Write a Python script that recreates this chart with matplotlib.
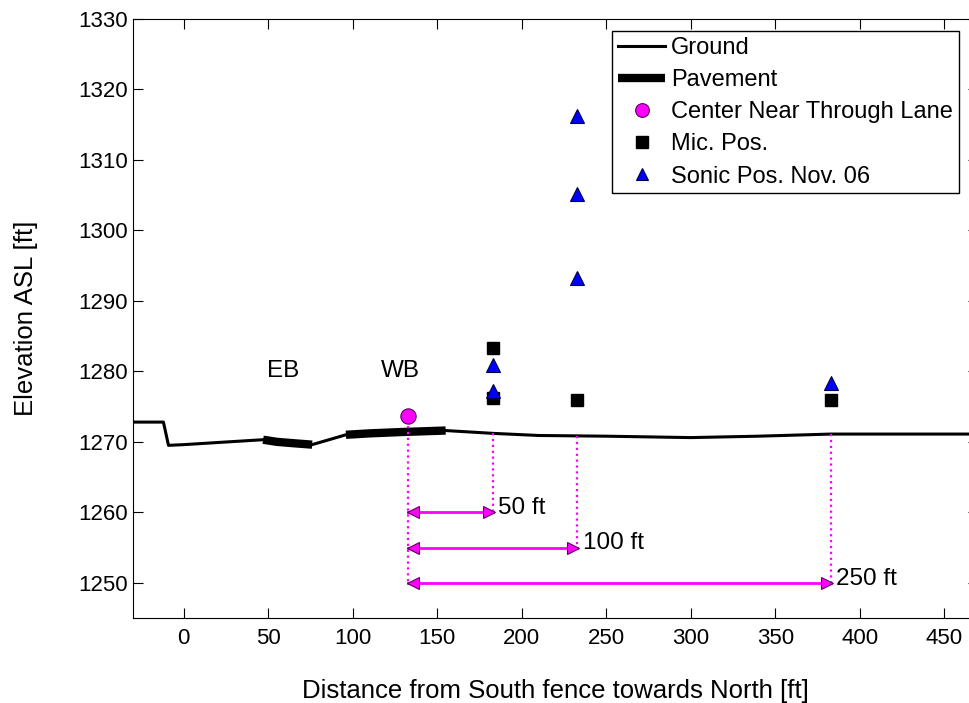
import matplotlib
matplotlib.use("Agg")
import matplotlib.pyplot as plt

plt.rcParams['font.family'] = ['Liberation Sans', 'DejaVu Sans']

# Profil du terrain (ft, ft ASL)
ground_x = [-30, -12, -9, 0, 20, 47, 76, 96, 110, 130, 155, 183, 210, 250, 300, 340, 383, 420, 470]
ground_y = [1272.8, 1272.8, 1269.5, 1269.6, 1269.9, 1270.3, 1269.6, 1271.0, 1271.2, 1271.4, 1271.6,
            1271.2, 1270.9, 1270.8, 1270.6, 1270.8, 1271.1, 1271.1, 1271.1]

# Chaussées EB / WB
pav_eb_x = [47, 55, 65, 76]
pav_eb_y = [1270.3, 1270.0, 1269.8, 1269.6]
pav_wb_x = [96, 110, 130, 155]
pav_wb_y = [1271.0, 1271.2, 1271.4, 1271.6]

center_x, center_y = 133, 1273.6

mic_x = [183, 183, 233, 383]
mic_y = [1283.3, 1276.2, 1275.9, 1276.0]

sonic_x = [183, 183, 233, 233, 233, 383]
sonic_y = [1280.9, 1277.2, 1316.3, 1305.1, 1293.3, 1278.3]

# Cotes de distance
dist_labels = ["50 ft", "100 ft", "250 ft"]
dist_end = [183, 233, 383]
dist_level = [1260, 1255, 1250]
ground_at_end = [1271.2, 1270.8, 1271.1]

fig = plt.figure(figsize=(9.69, 7.03), dpi=100)
ax = fig.add_axes([133 / 969, 85 / 703, 845 / 969, 599 / 703])

ax.plot(ground_x, ground_y, color='black', lw=2.2, label='Ground')
ax.plot(pav_eb_x, pav_eb_y, color='black', lw=6, solid_capstyle='butt', label='Pavement')
ax.plot(pav_wb_x, pav_wb_y, color='black', lw=6, solid_capstyle='butt')

# lignes de rappel pointillées + flèches
ax.plot([center_x, center_x], [1272.3, min(dist_level)], color='magenta', ls=':', lw=1.6)
for xe, yl, yg in zip(dist_end, dist_level, ground_at_end):
    ax.plot([xe, xe], [yg, yl], color='magenta', ls=':', lw=1.6)
    ax.plot([center_x, xe], [yl, yl], color='magenta', lw=2)
    ax.plot([center_x + 2.5], [yl], '<', ms=8, mfc='magenta', mec='#600060', mew=0.8)
    ax.plot([xe - 2.5], [yl], '>', ms=8, mfc='magenta', mec='#600060', mew=0.8)

for lab, xe, yl in zip(dist_labels, dist_end, dist_level):
    ax.text(xe + 3, yl + 0.6, lab, fontsize=17.5, ha='left', va='center')

ax.plot([center_x], [center_y], 'o', ms=11, mfc='magenta', mec='#5a005a', mew=0.8,
        label='Center Near Through Lane')
ax.plot(mic_x, mic_y, 's', ms=9, color='black', label='Mic. Pos.')
ax.plot(sonic_x, sonic_y, '^', ms=10, mfc='blue', mec='#000040', mew=0.8,
        label='Sonic Pos. Nov. 06')

ax.text(59, 1280, "EB", fontsize=17.5, ha='center', va='center')
ax.text(128, 1280, "WB", fontsize=17.5, ha='center', va='center')

ax.set_xlim(-30, 470)
ax.set_ylim(1245, 1330)
ax.set_xticks(range(0, 451, 50))
ax.set_yticks(range(1250, 1331, 10))
ax.tick_params(direction='in', top=True, right=True, length=7, labelsize=16)
ax.tick_params(axis='x', pad=7)
ax.set_xlabel("Distance from South fence towards North [ft]", fontsize=18.5, labelpad=22)
ax.set_ylabel("Elevation ASL [ft]", fontsize=18.5, labelpad=29)

leg = ax.legend(loc='upper right', bbox_to_anchor=(959 / 969, 1 - 31 / 703),
                bbox_transform=fig.transFigure, borderaxespad=0, fontsize=17,
                fancybox=False, framealpha=1, edgecolor='black', handlelength=2.0,
                handletextpad=0.25, labelspacing=0.43, borderpad=0.25, markerscale=0.9)
leg.get_frame().set_linewidth(1.0)

fig.savefig("out.png", dpi=100)
